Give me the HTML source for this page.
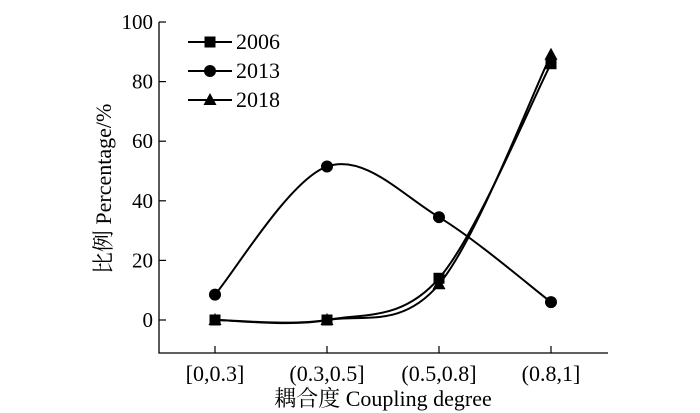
<!DOCTYPE html>
<html><head><meta charset="utf-8"><style>
body{margin:0;background:#fff;}
svg{display:block;font-family:"Liberation Serif","Noto Serif CJK SC",serif;}
</style></head><body>
<svg id="chart" width="700" height="413">
<g id="axes"></g><g id="series"></g><g id="legend"></g>
</svg>
<script>
const categories=["[0,0.3]","(0.3,0.5]","(0.5,0.8]","(0.8,1]"];
const yTicks=[0,20,40,60,80,100];
const s2006=[0,0,14,86];
const s2013=[8.5,51.5,34.5,6];
const s2018=[0,0,12,89];
const seriesNames=["2006","2013","2018"];
const NS="http://www.w3.org/2000/svg";
const X0=159,X1=608,YB=353;
const xs=i=>215+i*112;
const ys=v=>320-v*2.98;
function mk(tag,attrs,parent){const e=document.createElementNS(NS,tag);for(const k in attrs)e.setAttribute(k,attrs[k]);parent.appendChild(e);return e;}
const axes=document.getElementById('axes');
let a=mk('path',{d:`M${X0},${ys(100)}V${YB}H${X1}`,fill:'none',stroke:'#000','stroke-width':1.3},axes);


yTicks.forEach(v=>{
 const t=mk('line',{x1:X0,x2:X0+7,y1:ys(v),y2:ys(v),stroke:'#000','stroke-width':1.2},axes);
 
 
 const l=mk('text',{x:X0-6,y:ys(v)+7,'text-anchor':'end','font-size':21},axes);l.textContent=v;
 
 
});
categories.forEach((c,i)=>{
 const t=mk('line',{x1:xs(i),x2:xs(i),y1:YB,y2:YB-7,stroke:'#000','stroke-width':1.2},axes);
 
 
 const l=mk('text',{x:xs(i),y:381,'text-anchor':'middle','font-size':22},axes);l.textContent=c;
 
 
});
let xt=mk('text',{x:383,y:406,'text-anchor':'middle','font-size':22},axes);xt.textContent="耦合度 Coupling degree";


let yt=mk('text',{x:0,y:0,'text-anchor':'middle','font-size':22,transform:`translate(111,${ys(44)}) rotate(-90)`},axes);yt.textContent="比例 Percentage/%";


function spline(pts){
 let d=`M${pts[0][0]},${pts[0][1]}`;
 for(let i=0;i<pts.length-1;i++){
  const p0=pts[Math.max(0,i-1)],p1=pts[i],p2=pts[i+1],p3=pts[Math.min(pts.length-1,i+2)];
  d+=`C${p1[0]+(p2[0]-p0[0])/6},${p1[1]+(p2[1]-p0[1])/6} ${p2[0]-(p3[0]-p1[0])/6},${p2[1]-(p3[1]-p1[1])/6} ${p2[0]},${p2[1]}`;
 }
 return d;
}
function marker(type,x,y,g){
 let m;
 if(type==0)m=mk('rect',{x:x-5.5,y:y-5.5,width:11,height:11,fill:'#000'},g);
 else if(type==1)m=mk('circle',{cx:x,cy:y,r:6,fill:'#000'},g);
 else m=mk('path',{d:`M${x},${y-7}L${x+6.5},${y+5}L${x-6.5},${y+5}Z`,fill:'#000'},g);
 return m;
}
const sg=document.getElementById('series');
[s2006,s2013,s2018].forEach((s,k)=>{
 const g=mk('g',{},sg);
 
 
 const pts=s.map((v,i)=>[xs(i),ys(v)]);
 const p=mk('path',{d:spline(pts),fill:'none',stroke:'#000','stroke-width':2},g);
 
 
 pts.forEach(q=>{const m=marker(k,q[0],q[1],g);
  
  });
});
const lg=document.getElementById('legend');
seriesNames.forEach((n,k)=>{
 const y=42+k*29;
 const g=mk('g',{},lg);
 
 
 mk('line',{x1:188,x2:232,y1:y,y2:y,stroke:'#000','stroke-width':2},g);
 marker(k,210,y,g);
 const t=mk('text',{x:236,y:y+7,'font-size':22},g);t.textContent=n;
});
</script>
</body></html>
